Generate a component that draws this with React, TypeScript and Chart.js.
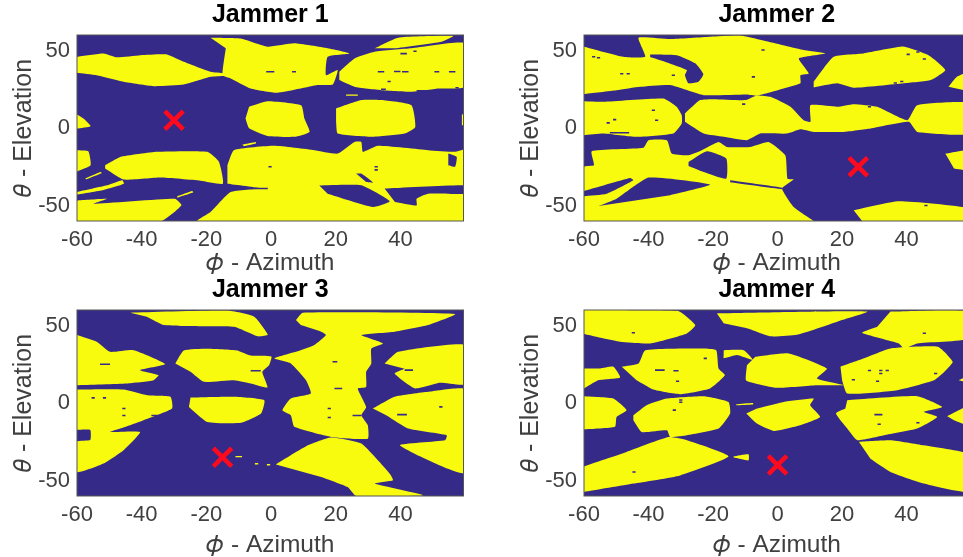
import React, { useEffect, useRef } from "react";
import { Chart, registerables } from "chart.js";

Chart.register(...registerables);

type Pair = [number, number];
type Dash = [number, number, number];

const xTickStep = 20;
const yTickStep = 50;
const titles = ["Jammer 1", "Jammer 2", "Jammer 3", "Jammer 4"];

const jammer1Marker: Pair = [-30, 5];
const jammer2Marker: Pair = [25, -25];
const jammer3Marker: Pair = [-15, -35];
const jammer4Marker: Pair = [0, -40];

const jammer1Yellow: Pair[][] = [
  [[-60,46],[-51.8,48.1],[-47.7,45.6],[-40.4,47],[-32.2,47.5],[-27,42.8],[-18.7,36.3],[-14.6,35.2],[-14.6,33.7],[-18.7,33],[-27,28],[-36.3,27],[-45.6,29.8],[-53.9,34],[-60,35.6]],
  [[-18.7,58.3],[-9.4,57.8],[-1.1,52.5],[7.2,54.6],[17.5,51.4],[24.2,48.1],[17.5,46],[17,34.1],[20.6,37.4],[19.1,28.1],[14.4,27.7],[2,22.7],[-6.3,25.5],[-12.5,32],[-15,34],[-14,51.4]],
  [[21.1,36.3],[25.8,44.9],[32,49.2],[43.4,51.4],[60,54.6],[60,26.6],[51.7,25.5],[43.4,23.4],[34.1,24.4],[25.8,26.6],[21.1,30.9]],
  [[32,51.4],[39.3,58.3],[56.3,59.4],[52.7,55.7],[38.2,51.4]],
  [[-6.8,13.7],[-1.1,17.3],[9.3,14.7],[10.3,6.1],[11.9,-2.5],[7.2,-5.7],[-1.1,-5.1],[-6.8,-0.1],[-7.9,6.1]],
  [[20.1,12.6],[27.9,18],[34.1,18],[43.4,14.7],[44.6,0.7],[41.3,-3.6],[31,-5.7],[20.6,-3.6],[20.1,4]],
  [[-60,8.7],[-58,6.1],[-55.8,1.2],[-60,-0.3]],
  [[59,8.7],[60,8.7],[60,1.8],[59,1.8]],
  [[-60,-14.3],[-56.5,-15],[-55.8,-24],[-60,-28]],
  [[-51.3,-24],[-46.6,-18.7],[-35.2,-15.4],[-19.7,-15.4],[-16.1,-21.9],[-14.9,-35.9],[-21.8,-34],[-34.2,-32],[-45.6,-33.3],[-51.3,-26.2]],
  [[-13.5,-24],[-11.5,-14.3],[1,-11.5],[13.4,-14.3],[20.6,-16.5],[25.8,-9],[27.9,-9],[28.4,-15.4],[33,-11.5],[48.6,-14.3],[56.9,-15.4],[60,-14],[60,-60],[-22.8,-60],[-18.7,-54.2],[-12.5,-41.3],[-3.2,-39],[-13.5,-36]],
  [[-60,-41.3],[-50.7,-37],[-46,-33.7],[-45.5,-36],[-51.8,-40],[-60,-43]],
  [[-60,-46.7],[-50.7,-45.6],[-54.8,-48.8],[-29.7,-45.6],[-27.7,-49.9],[-33.9,-60],[-60,-60]],
  [[-57.5,-32.7],[-52.8,-28.4],[-52.3,-29],[-57,-33]],
  [[-29,-44],[-24.4,-40.6],[-24,-41.5],[-29,-45]],
  [[-8.9,-10.7],[-4.7,-9],[-4.7,-10],[-8.4,-11.8]],
  [[23.2,21.6],[26.8,21.6],[26.8,20.8],[23.2,20.8]],
];
const jammer1Holes: Pair[][] = [
  [[14.9,-37.1],[27.9,-37],[36.7,-47.3],[31.5,-51],[17.5,-42.4]],
  [[35.1,-39.1],[60,-37],[60,-42.4],[48.6,-42.4],[45,-45.6],[45,-50],[38.3,-47.7]],
  [[54.8,-16.5],[57.4,-18.7],[56.9,-25],[54.8,-24]],
  [[26.3,-29.4],[27.9,-29.4],[31.5,-35.2],[29.4,-34.8]],
];
const jammer1Dashes: Dash[] = [
  [-1.5,1,36.3],[6.5,7.7,36.3],[33,35,36.3],[38,40,36.5],[40.5,42.5,36.3],[50.5,52,36.3],[55,57,36.3],
  [36,37,30],[34,35.5,25],[45,52,24],[40,42,48],[44,45,49.5],[57,58,26],[-0.8,0.2,-25],[32,33,-25],[32,33,-27],[-5,-1,-39],
];

const jammer2Yellow: Pair[][] = [
  [[-60,52.5],[-47.8,46],[-41,46],[-43.1,58.3],[-33.3,57.4],[-20.9,58.9],[-11.6,59.6],[-2.2,55.3],[8.1,50.3],[14.8,48.1],[6.6,44.9],[9.7,35.2],[7.1,34.1],[7.1,28.8],[1.9,25.5],[-2.8,22.7],[-6.4,20.8],[-9.5,21.6],[-22.9,21.2],[-33.3,27.7],[-42.6,26.6],[-49.9,24.4],[-60,21.9]],
  [[-60,17.3],[-54,16.9],[-35.4,19],[-31.3,13.7],[-29.7,8.3],[-29.7,2.9],[-32.3,-3.5],[-43.7,-5.7],[-54,-3.5],[-60,-4.6]],
  [[-28.7,9.4],[-24,18],[-19.8,18.6],[-10,18],[-6.4,21],[-2.2,20.1],[4,13.7],[8.1,5],[10.2,4],[10.2,14.7],[18.5,13.7],[23.6,15.4],[30.9,13.7],[40.2,5],[43.3,14.7],[60,16],[60,-3.6],[43.3,-2.5],[40.7,4],[28.8,-0.3],[20.5,-2.5],[11.2,-2.5],[7.1,-0.8],[2.9,-3.6],[-5.4,-3.6],[-9.5,-7.9],[-16.7,-5.7],[-22.9,-3.6],[-28.7,4]],
  [[11.2,29.9],[17.4,46],[26.7,48.1],[39.1,52.5],[46.8,47],[52,37.4],[47.5,30.9],[39.1,28.8],[23.6,25.9],[18.5,28.8],[11.2,26.1]],
  [[53,26.6],[55.6,33.1],[60,36.3],[60,23.4]],
  [[52,-16.5],[60,-14.3],[60,-27.3],[54.7,-26.2]],
  [[23.6,-53.1],[37.6,-47.3],[60,-52],[60,-60],[26.2,-60]],
  [[-60,-60],[-60,-25],[-56.9,-24],[-57.6,-15],[-41.6,-12.8],[-40,-7.9],[-34.3,-7.9],[-32.8,-16.5],[-27.6,-17.6],[-23.5,-14.3],[-18.3,-9],[-15.7,-12.2],[-8.5,-12.2],[-2.8,-9],[2.4,-17.6],[3.1,-32.7],[5,-33.1],[1.4,-39.1],[5,-51],[11.2,-60]],
];
const jammer2Holes: Pair[][] = [
  [[-39.5,47.5],[-31.2,47],[-25.5,41.7],[-23,34.6],[-24.5,29.8],[-27.6,28.8],[-28.7,34.1],[-28.1,37.4],[-34.3,42.3],[-39.5,45.8]],
  [[-27.6,-21.9],[-21.9,-15],[-15.9,-19.7],[-15.9,-32.7],[-22.9,-28.4],[-27.6,-24.5]],
  [[-55.5,-50.3],[-49.9,-45.6],[-39.9,-32],[-20.9,-36.5],[-33.3,-43.4]],
  [[-60,-40.6],[-45.7,-32.2],[-44.7,-33.7],[-53,-42.4],[-60,-44]],
  [[-14.7,-33.7],[1.5,-38.5],[1.5,-39.5],[-14.7,-35]],
];
const jammer2Dashes: Dash[] = [
  [-57.5,-56.5,46],[-56,-55,45.3],[-48.8,-47.8,35],[-46.8,-45.8,35],[-32.8,-31.8,34],[-8,-7,33],[-5,-4,50.3],
  [-11,-10,15.4],[-39,-38,11.5],[-38,-37,5],[-53,-52,3.3],[-51,-50,5.4],[28,29,13.7],[38,39,30],[36,37,29],
  [40,41,47.5],[43,44,49],[45,46,44.5],[45.5,46.5,-50],[-52,-46,-3],
];

const jammer3Yellow: Pair[][] = [
  [[-43.5,58.3],[-13.5,59.6],[-5.2,55.7],[-1,44],[-4.1,43],[-11.4,49.2],[-23.9,49.6],[-33.1,50.3],[-38.4,55.7]],
  [[-60,43.8],[-53.9,39.5],[-49.8,33],[-42.5,34.1],[-32.7,25.1],[-40.5,21.2],[-34.8,18],[-36.3,14.7],[-44.6,12.6],[-60,11.5]],
  [[-29.6,25.5],[-27,33.9],[-19.8,35],[-10.5,33.9],[-6.3,30.6],[0.1,30],[-0.6,24.4],[-2.7,20.1],[-1.1,10],[-6.3,12.6],[-11.4,14.7],[-20.8,13.7],[-24.9,20.1]],
  [[-60,8.7],[-45.6,8.7],[-38.3,5],[-31.1,4],[-30.6,-3.6],[-39.4,-11.1],[-46.6,-16.5],[-49.8,-18.7],[-40.5,-18.7],[-45.6,-30.5],[-51.8,-39.1],[-60,-44.5],[-60,-24.9],[-55.9,-23.8],[-55.9,-17.4],[-60,-17.4]],
  [[-24.9,3.5],[-11.4,4],[-2.1,1.8],[-3.1,-6.8],[-9.3,-12.8],[-19.7,-12.2],[-25.4,-2.5]],
  [[7.7,53.5],[9.8,58.3],[56.9,57.4],[48.6,50.3],[38.2,46],[27.9,43.8],[34.6,38.4],[31,35.2],[31,25.5],[29.4,20.1],[29.4,10.4],[26.8,9.4],[29.4,-2.5],[27.9,-7.9],[29.9,-14.3],[29.9,-23],[18.6,-21.9],[7.2,-15.4],[6.1,-7.9],[3.5,-4.7],[6.1,2.9],[12.3,6.1],[10.8,14.7],[6.1,25.5],[1,28.8],[9.2,34.1],[13.4,37.4],[17,43.8],[15.5,46],[9.2,50.3]],
  [[35.1,25.5],[39.3,33],[60,37.4],[60,12.2],[52.2,13],[44.5,9.4],[38.2,19],[41.3,22.1]],
  [[31.5,-3.6],[38.2,4],[48.6,7.2],[60,8.7],[60,-45.2],[39.8,-27.3],[53.8,-24],[54.3,-20.8],[42.4,-16.5],[35.6,-7.9]],
  [[1.5,-39.6],[11.4,-27.3],[18.6,-22.3],[27.9,-26.2],[36.7,-45.6],[37.7,-49.9],[32.1,-52],[47,-59.6],[26.3,-60],[23.7,-54.2],[15.5,-47.7]],
  [[-11,-34.2],[-9,-34.2],[-9,-35],[-11,-35]],
  [[-5,-38.7],[-4,-38.7],[-4,-39.6],[-5,-39.6]],
  [[-1.3,-39.4],[-0.3,-39.4],[-0.3,-40.3],[-1.3,-40.3]],
];
const jammer3Holes: Pair[][] = [];
const jammer3Dashes: Dash[] = [
  [-52.9,-49.8,25],[-6.3,-3.2,20.8],[19,20.5,26.6],[19.6,22,9.4],[41.3,43.9,21.2],[52,53,-2.5],[17.5,18.5,-3.6],
  [17.5,18.5,-9.4],[25.2,27.9,-8],[-55.5,-54.5,3.3],[-52,-51,3.3],[-46,-45,-3.6],[-46,-45,-8],[-37,-34,-8],[39,42,-7.5],
];

const jammer4Yellow: Pair[][] = [
  [[-60,60],[-31,59.5],[-25.5,50.3],[-28.1,44.9],[-39.5,38.4],[-48.8,39.5],[-60,44.5]],
  [[-18.8,57.8],[27.8,59],[18.5,52.5],[6,44],[-2.2,43],[-9.5,48.2],[-16.7,51.4]],
  [[35,59],[60,59],[60,41.7],[43.3,38.4],[39.2,35.2],[37.6,38.4],[26.2,45.3],[30.9,49.2]],
  [[-60,22.3],[-55,22.3],[-50.9,23.4],[-48.8,16.5],[-55.6,14.7],[-60,9.4]],
  [[-48.3,23.4],[-43.1,25.5],[-41,34.1],[-23,35.2],[-19,34.1],[-18.3,22.3],[-16.3,18],[-20.9,9.4],[-30.2,5.7],[-38.5,8.7],[-43.7,14.7]],
  [[-16.7,34.1],[-10.5,34.1],[-7.6,27.7],[-12.6,30.9],[-16.7,28.8],[-16.7,30.9]],
  [[-6.9,29.8],[3.4,32],[15.3,22.3],[12.2,15.8],[20.5,11.5],[12.2,11.5],[-0.2,9.8],[-6.9,12.6],[-9.8,14.7],[-9.5,24.4]],
  [[19.5,23.4],[26.8,28.8],[35,35.2],[49.7,36.3],[54.3,26.6],[52.2,21.2],[48.5,14.7],[37.1,8.3],[21.6,6.1],[20,14.7]],
  [[56.2,14.7],[60,18],[60,12.6]],
  [[-60,4.4],[-50.9,2.9],[-46.8,-4.7],[-49.9,-9],[-50.4,-15.4],[-60,-17.1]],
  [[-44.7,-7.9],[-40.6,-1.4],[-34.3,2.9],[-22.9,4.4],[-15.2,0.7],[-14.7,-6.8],[-18.3,-16.5],[-28.1,-20.8],[-33.3,-21.9],[-34.3,-17.6],[-42.1,-18.7],[-44.7,-11.1]],
  [[-6.4,-3.6],[1.9,0.7],[11.2,2.9],[10.1,-1.4],[13.2,-9],[7,-14.3],[-1.2,-18],[-6.4,-13.3],[-9.7,-6.8]],
  [[-12.8,-0.8],[-7.6,0],[-7.6,-1],[-12.8,-1.5]],
  [[21.6,1.8],[43.3,4.4],[51,-2.5],[45.3,-5.7],[49.5,-9],[43.3,-16.5],[33,-20.8],[24.7,-24],[21.6,-16.5],[18.1,-6.8],[21,-3.6]],
  [[52.6,-8.5],[60,-1.4],[60,-15],[54.7,-11.1]],
  [[-60,-40.9],[-46.8,-31.6],[-33.8,-22],[-28.1,-24],[-15.2,-34.4],[-30.2,-46.7],[-44.7,-52],[-60,-57.4]],
  [[-13.6,-34.4],[-9,-33.1],[-9,-37],[-13.6,-35.2]],
  [[25.2,-25],[35,-24],[45.3,-27.3],[60,-33.7],[60,-57.4],[45.3,-52],[35,-44.5],[28.8,-36]],
];
const jammer4Holes: Pair[][] = [];
const jammer4Dashes: Dash[] = [
  [-45.2,-44.2,45.3],[-38,-35,21.2],[-32.3,-30.7,20.8],[-31.5,-30.5,14],[-22.9,-21.9,28.8],[45,46,45],[28,29,21],
  [31.5,32.5,21],[33.5,34.5,21],[31.5,32.5,19],[30.5,31.5,14],[23,24,15],[48.5,49.5,19],[-30.5,-29.5,2],[-30.5,-29.5,0.5],
  [-32.5,-31.5,-4.6],[30,32.5,-7.5],[31,32,-13.7],[43,44,-12.8],[-45,-44,-44.5],
];

const panelYellow = [jammer1Yellow, jammer2Yellow, jammer3Yellow, jammer4Yellow];
const panelHoles = [jammer1Holes, jammer2Holes, jammer3Holes, jammer4Holes];
const panelDashes = [jammer1Dashes, jammer2Dashes, jammer3Dashes, jammer4Dashes];
const panelMarkers = [jammer1Marker, jammer2Marker, jammer3Marker, jammer4Marker];

const NAVY = "#352a87";
const YELLOW = "#f9fb0e";
const FONT = "'Liberation Sans', Arial, sans-serif";
const TEXT = "#404040";

const plotFrame = {
  id: "plotFrame",
  beforeDatasetsDraw(chart: any) {
    const { ctx, chartArea: a } = chart;
    ctx.save();
    ctx.fillStyle = NAVY;
    ctx.fillRect(a.left, a.top, a.right - a.left, a.bottom - a.top);
    ctx.restore();
  },
  afterDraw(chart: any) {
    const { ctx, chartArea: a } = chart;
    ctx.save();
    ctx.strokeStyle = "#555555";
    ctx.lineWidth = 1;
    ctx.strokeRect(a.left, a.top, a.right - a.left, a.bottom - a.top);
    ctx.restore();
  },
};

const polygon = (pts: Pair[], color: string, tension: number) => ({
  data: pts.map(([x, y]) => ({ x, y })),
  showLine: true,
  fill: "shape",
  backgroundColor: color,
  borderColor: "transparent",
  borderWidth: 0,
  pointRadius: 0,
  tension,
});

const dashToPolygon = ([a, b, e]: Dash): Pair[] => [
  [a, e + 0.5],
  [b, e + 0.5],
  [b, e - 0.5],
  [a, e - 0.5],
];

const layouts = [
  { left: 0, top: 0, width: 507, height: 275, xH: 54, titlePad: 0, rightPad: 43.5 },
  { left: 507, top: 0, width: 480, height: 275, xH: 54, titlePad: 0, rightPad: 0 },
  { left: 0, top: 275, width: 507, height: 282, xH: 61, titlePad: 4, rightPad: 43.5 },
  { left: 507, top: 275, width: 480, height: 282, xH: 61, titlePad: 4, rightPad: 0 },
];

function Panel({ index }: { index: number }) {
  const ref = useRef<HTMLCanvasElement>(null);
  const l = layouts[index];
  useEffect(() => {
    const [mx, my] = panelMarkers[index];
    const chart = new Chart(ref.current as HTMLCanvasElement, {
      type: "scatter",
      data: {
        datasets: [
          {
            data: [{ x: mx, y: my }],
            pointStyle: "crossRot",
            pointRadius: 13,
            pointBorderWidth: 4.5,
            pointBorderColor: "#fe0a1e",
            pointBackgroundColor: "#fe0a1e",
            showLine: false,
          },
          ...panelDashes[index].map((d) => polygon(dashToPolygon(d), NAVY, 0)),
          ...panelHoles[index].map((p) => polygon(p, NAVY, 0.15)),
          ...panelYellow[index].map((p) => polygon(p, YELLOW, 0.15)),
        ] as any,
      },
      plugins: [plotFrame],
      options: {
        responsive: false,
        animation: false,
        events: [],
        layout: { padding: { left: 0, right: l.rightPad, top: 0, bottom: 0 } },
        plugins: {
          legend: { display: false },
          tooltip: { enabled: false },
          title: {
            display: true,
            fullSize: false,
            text: titles[index],
            color: "#000000",
            font: { family: FONT, size: 25, weight: "bold", lineHeight: 1 },
            padding: { top: 3, bottom: 7 },
          },
        },
        scales: {
          x: {
            type: "linear",
            min: -60,
            max: 59.5,
            grid: { display: false, drawTicks: false },
            border: { display: false },
            ticks: {
              stepSize: xTickStep,
              includeBounds: false,
              autoSkip: false,
              maxRotation: 0,
              padding: 6,
              color: TEXT,
              font: { family: FONT, size: 22 },
            },
            title: {
              display: true,
              text: "𝜙 - Azimuth",
              color: TEXT,
              font: { family: FONT, size: 24.5, lineHeight: 1 },
              padding: { top: l.titlePad - 1, bottom: 0 },
            },
            afterFit: (s: any) => {
              s.height = l.xH;
            },
          },
          y: {
            type: "linear",
            min: -60,
            max: 60,
            grid: { display: false, drawTicks: false },
            border: { display: false },
            ticks: {
              stepSize: yTickStep,
              includeBounds: false,
              autoSkip: false,
              padding: 7,
              color: TEXT,
              font: { family: FONT, size: 22 },
            },
            title: {
              display: true,
              text: "𝜃 - Elevation",
              color: TEXT,
              font: { family: FONT, size: 25, lineHeight: 1 },
              padding: { top: 12, bottom: 0 },
            },
            afterFit: (s: any) => {
              s.width = 77;
            },
          },
        },
      } as any,
    });
    return () => chart.destroy();
  }, [index]);
  return (
    <canvas
      ref={ref}
      width={l.width}
      height={l.height}
      style={{ position: "absolute", left: l.left, top: l.top, width: l.width, height: l.height }}
    />
  );
}

export default function App() {
  return (
    <div style={{ position: "fixed", left: 0, top: 0, width: 963, height: 557, overflow: "hidden", background: "#ffffff" }}>
      {[0, 1, 2, 3].map((i) => (
        <Panel key={i} index={i} />
      ))}
    </div>
  );
}
